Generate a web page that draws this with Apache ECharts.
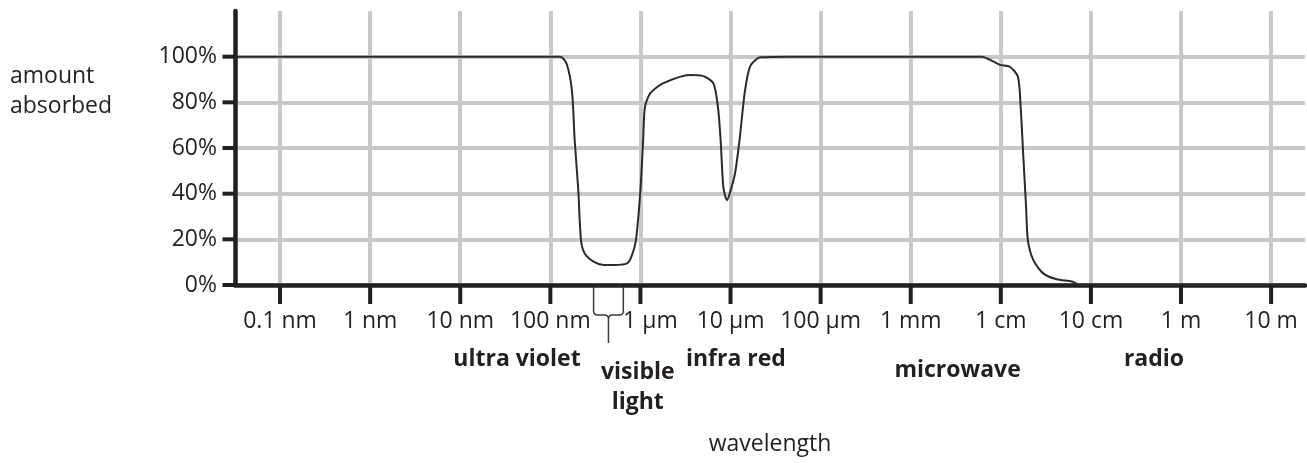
<!DOCTYPE html>
<html><head><meta charset="utf-8">
<script src="https://cdn.jsdelivr.net/npm/echarts@6/dist/echarts.min.js"></script>
<style>html,body{margin:0;padding:0;background:#fff}#c{width:1307px;height:463px}</style>
</head><body><div id="c"></div>
<script>
// x values are log10(wavelength in metres)
const curveLogWavelength = [-10.5, -6.89, -6.82, -6.76, -6.73, -6.69, -6.66, -6.62, -6.52, -6.41, -6.28, -6.15, -6.10, -6.05, -6.00, -5.97, -5.95, -5.89, -5.75, -5.45, -5.30, -5.19, -5.14, -5.11, -5.08, -5.04, -5.01, -4.95, -4.90, -4.84, -4.78, -4.67, -4.34, -2.21, -2.08, -2.01, -1.90, -1.81, -1.78, -1.75, -1.72, -1.70, -1.64, -1.53, -1.38, -1.21, -1.12, 1.376];
const curveAbsorbed = [100, 100, 97, 85, 63.5, 41.6, 19.7, 13.9, 10.2, 8.8, 8.8, 9.5, 12.4, 19.7, 41.6, 63.5, 78, 84, 88.3, 92, 91.5, 88.3, 78, 63.5, 43, 37.2, 40, 48.9, 63.5, 85, 96, 99.7, 100, 100, 97.8, 96.4, 95.6, 91.2, 78, 56, 34.3, 19.7, 11, 5.1, 2.5, 1.5, 0, 0];
const tickLogWavelength = [-10, -9, -8, -7, -6, -5, -4, -3, -2, -1, 0, 1];
const tickLabels = ['0.1 nm', '1 nm', '10 nm', '100 nm', '1 μm', '10 μm', '100 μm', '1 mm', '1 cm', '10 cm', '1 m', '10 m'];
const yTickValues = [0, 20, 40, 60, 80, 100];
const bandNames = ['ultra violet', 'visible\nlight', 'infra red', 'microwave', 'radio'];
const bandLogCenters = [-7.37, -6.03, -4.94, -2.48, -0.30];
const visibleLogRange = [-6.52, -6.19];

const X_MIN = -10.5, X_MAX = 1.376;
const INK = '#231f20';
const FONT = 'Open Sans';
// vertical offsets (px below the x axis) for band labels
const bandOffset = {'ultra violet': 74, 'visible\nlight': 102.5, 'infra red': 74, 'microwave': 85.5, 'radio': 74};

const chart = echarts.init(document.getElementById('c'), null, {renderer: 'canvas'});
const option = {
  animation: false,
  textStyle: {fontFamily: FONT, color: INK},
  grid: {left: 235, right: 2, top: 11, bottom: 178, containLabel: false, outerBoundsMode: 'none'},
  graphic: [{
    type: 'text', left: 10, top: 61,
    style: {text: 'amount\nabsorbed', font: '23px "Open Sans"', fill: INK, lineHeight: 30}
  }],
  xAxis: {
    type: 'value', min: X_MIN, max: X_MAX, interval: 0.5,
    axisLine: {show: true, onZero: false, lineStyle: {color: INK, width: 4.5}},
    axisTick: {show: false},
    splitLine: {show: true, lineStyle: {color: ['rgba(0,0,0,0)', '#c8c8c8'], width: 4}},
    axisLabel: {
      margin: 25, fontSize: 23, fontFamily: FONT, color: INK,
      formatter: function (v) {
        for (let i = 0; i < tickLogWavelength.length; i++) {
          if (Math.abs(v - tickLogWavelength[i]) < 1e-6) {
            return tickLabels[i] === '1 μm' ? '{shift|' + tickLabels[i] + '}' : tickLabels[i];
          }
        }
        return '';
      },
      rich: {shift: {padding: [0, 0, 0, 20], fontSize: 23, fontFamily: FONT, color: INK}}
    },
    name: 'wavelength', nameLocation: 'middle', nameGap: 147.5,
    nameTextStyle: {fontSize: 23, fontFamily: FONT, color: INK}
  },
  yAxis: {
    type: 'value', min: 0, max: 120, interval: 20,
    axisLine: {show: true, onZero: false, lineStyle: {color: INK, width: 4.5}},
    axisTick: {show: false},
    splitLine: {show: true, lineStyle: {color: ['#c8c8c8', '#c8c8c8', '#c8c8c8', '#c8c8c8', '#c8c8c8', '#c8c8c8', 'rgba(0,0,0,0)'], width: 4}},
    axisLabel: {
      margin: 18, fontSize: 23, fontFamily: FONT, color: INK,
      formatter: function (v) { return yTickValues.indexOf(v) >= 0 ? v + '%' : ''; }
    }
  },
  series: [
    {
      type: 'line', name: 'absorbed', showSymbol: false, symbol: 'none',
      smooth: 0.25, z: 3,
      lineStyle: {color: '#2a2a2a', width: 2},
      data: curveLogWavelength.map((x, i) => [x, curveAbsorbed[i]])
    },
    {
      type: 'custom', coordinateSystem: 'cartesian2d', clip: false, silent: true, z: 6,
      data: tickLogWavelength.map(v => [v, 0]),
      renderItem: function (params, api) {
        const p = api.coord([api.value(0), 0]);
        return {type: 'line', shape: {x1: p[0], y1: p[1], x2: p[0], y2: p[1] + 19}, style: {stroke: INK, lineWidth: 4}};
      }
    },
    {
      type: 'custom', coordinateSystem: 'cartesian2d', clip: false, silent: true, z: 6,
      data: yTickValues.map(v => [X_MIN, v]),
      renderItem: function (params, api) {
        const p = api.coord([X_MIN, api.value(1)]);
        return {type: 'line', shape: {x1: p[0] - 12.5, y1: p[1], x2: p[0], y2: p[1]}, style: {stroke: INK, lineWidth: 4}};
      }
    },
    {
      type: 'custom', coordinateSystem: 'cartesian2d', clip: false, silent: true, z: 6,
      data: [[visibleLogRange[0], visibleLogRange[1]]],
      renderItem: function (params, api) {
        const a = api.coord([api.value(0), 0]);
        const b = api.coord([api.value(1), 0]);
        const x1 = a[0], x2 = b[0], xm = (x1 + x2) / 2, y0 = a[1] + 2;
        const yb = y0 + 28;
        const d = 'M' + x1 + ' ' + y0 + ' L' + x1 + ' ' + (yb - 4) +
          ' Q' + x1 + ' ' + yb + ' ' + (x1 + 4) + ' ' + yb +
          ' L' + (xm - 4) + ' ' + yb + ' Q' + xm + ' ' + yb + ' ' + xm + ' ' + (yb + 4) +
          ' L' + xm + ' ' + (y0 + 56) +
          ' M' + x2 + ' ' + y0 + ' L' + x2 + ' ' + (yb - 4) +
          ' Q' + x2 + ' ' + yb + ' ' + (x2 - 4) + ' ' + yb +
          ' L' + (xm + 4) + ' ' + yb + ' Q' + xm + ' ' + yb + ' ' + xm + ' ' + (yb + 4);
        return {type: 'path', shape: {pathData: d}, style: {stroke: '#3a3a3a', lineWidth: 1.5, fill: null}};
      }
    },
    {
      type: 'custom', coordinateSystem: 'cartesian2d', clip: false, silent: true, z: 6,
      data: bandLogCenters.map((x, i) => [x, 0, i]),
      renderItem: function (params, api) {
        const name = bandNames[api.value(2)];
        const p = api.coord([api.value(0), 0]);
        return {
          type: 'text', x: p[0], y: p[1] + bandOffset[name],
          style: {text: name, align: 'center', verticalAlign: 'middle', lineHeight: 30,
            font: 'bold 23px "Open Sans"', fill: INK}
        };
      }
    }
  ]
};
chart.setOption(option);
</script>
</body></html>
